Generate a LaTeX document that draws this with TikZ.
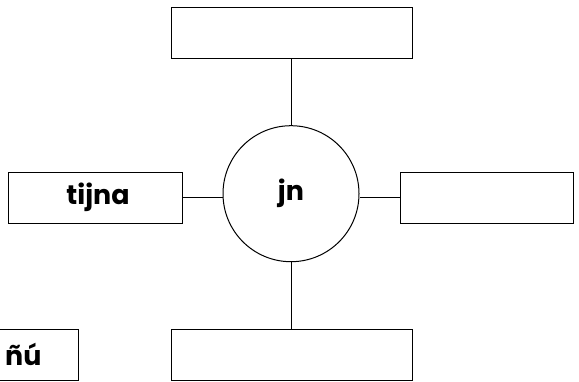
\documentclass[tikz,border=0pt]{standalone}
\usepackage{fontspec}
\setmainfont{Poppins}
\begin{document}
\begin{tikzpicture}[x=1bp,y=-1bp,line width=1bp,
        box/.style={draw,rectangle,minimum height=51bp,inner sep=0pt,font=\fontsize{27}{32}\selectfont\bfseries},
        hub/.style={draw,circle,minimum size=136bp,inner sep=0pt,font=\fontsize{27}{32}\selectfont\bfseries}]
    \useasboundingbox (0,0) rectangle (579,381);
    \node[hub] (jn) at (291,193.7) {\raisebox{-4bp}{jn}};
    \node[box,minimum width=241bp] (top) at (291.5,32.5) {};
    \node[box,minimum width=173bp] (tijna) at (95.5,197.7) {\hspace*{5bp}tijna};
    \node[box,minimum width=173bp] (right) at (486.5,197.7) {};
    \node[box,minimum width=241bp] (bottom) at (291.5,354.5) {};
    \node[box,minimum width=173bp,anchor=east,inner xsep=37bp,text width=99bp,align=right]
        (nu) at (79,354.5) {ñú};
    \draw (top) -- (top |- jn.north);
    \draw (tijna) -- (tijna -| jn.west);
    \draw (right) -- (right -| jn.east);
    \draw (bottom) -- (bottom |- jn.south);
\end{tikzpicture}
\end{document}
